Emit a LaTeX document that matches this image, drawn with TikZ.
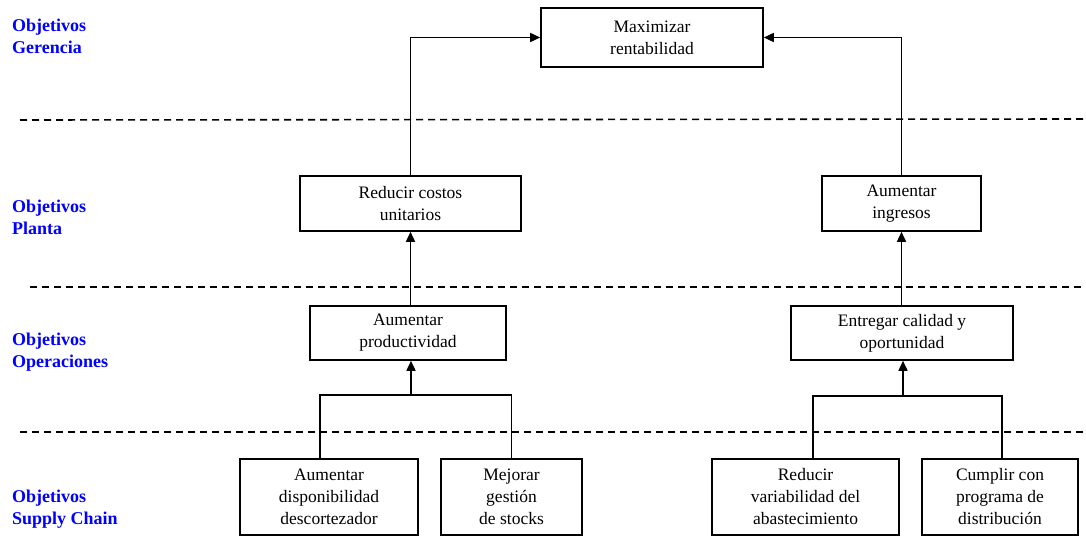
\documentclass[tikz,border=0pt]{standalone}
\usepackage{fontspec}
\setmainfont{Liberation Serif}
\usetikzlibrary{arrows.meta,calc,positioning}

\tikzset{
 obj/.style={draw,line width=1.6pt,align=center,inner sep=0pt,
  font=\fontsize{17.5}{22}\selectfont},
 nivel/.style={anchor=base west,align=left,text=blue,inner sep=0pt,
  font=\fontsize{18}{22}\selectfont\bfseries},
 sep/.style={line width=1.6pt,dash pattern=on 7pt off 5pt},
 con/.style={line width=1.6pt},
 flecha/.style={con,-{Triangle[length=10pt,width=9pt]}}
}

\begin{document}
\begin{tikzpicture}[x=1pt,y=-1pt]
\useasboundingbox (0,0) rectangle (1086,540);
% niveles
\node[nivel] (lgerencia) at (12,54) {Objetivos\\Gerencia};
\node[nivel] (lplanta) at (12,234) {Objetivos\\Planta};
\node[nivel] (loper) at (12,367) {Objetivos\\Operaciones};
\node[nivel] (lsupply) at (12,524) {Objetivos\\Supply Chain};
\draw[sep] (20,120)--(1086,119);
\draw[sep] (30,287)--(1083,287);
\draw[sep] (20,432)--(1086,432);
% objetivos
\node[obj,minimum width=222pt,minimum height=59pt] (max) at (652,37.5) {Maximizar\\rentabilidad};
\node[obj,minimum width=221pt,minimum height=55pt] (costos) at (410.5,203.5) {Reducir costos\\unitarios};
\node[obj,minimum width=159pt,minimum height=55pt] (ingresos) at (901.5,203.5) {Aumentar\\ingresos};
\node[obj,minimum width=196pt,minimum height=54pt] (prod) at (408,333) {Aumentar\\productividad};
\node[obj,minimum width=222pt,minimum height=54pt] (calidad) at (902,333) {Entregar calidad y\\oportunidad};
\node[obj,minimum width=178pt,minimum height=76pt] (descort) at (329,497) {Aumentar\\disponibilidad\\descortezador};
\node[obj,minimum width=141pt,minimum height=76pt] (stocks) at (511.5,497) {Mejorar\\gestión\\de stocks};
\node[obj,minimum width=187pt,minimum height=76pt] (abast) at (805.5,497) {Reducir\\variabilidad del\\abastecimiento};
\node[obj,minimum width=156pt,minimum height=76pt] (distrib) at (1000,497) {Cumplir con\\programa de\\distribución};
\coordinate (jizq) at (411,395);
\coordinate (jder) at (903,396);
% conexiones
\draw[flecha] (costos.north) |- (max.west);
\draw[flecha] (ingresos.north) |- (max.east);
\draw[flecha] (costos.south |- prod.north) -- (costos.south);
\draw[flecha] (ingresos.south |- calidad.north) -- (ingresos.south);
\draw[con] ([xshift=-9pt]descort.north) |- (jizq) -| (stocks.north);
\draw[flecha] (jizq) -- (jizq|-prod.south);
\draw[con] ([xshift=7.5pt]abast.north) |- (jder) -| ([xshift=2pt]distrib.north);
\draw[flecha] (jder) -- (jder|-calidad.south);
\end{tikzpicture}
\end{document}
